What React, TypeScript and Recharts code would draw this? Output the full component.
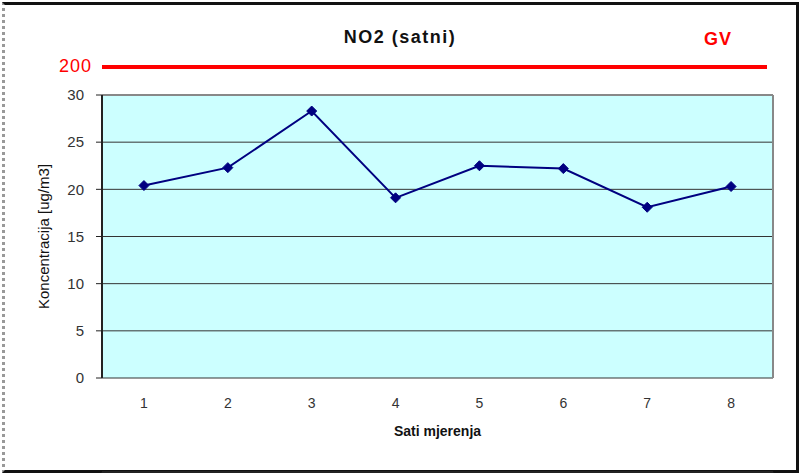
import { LineChart, Line, XAxis, YAxis, CartesianGrid, ReferenceLine } from "recharts";

const hours = [1, 2, 3, 4, 5, 6, 7, 8];
const no2 = [20.4, 22.3, 28.3, 19.1, 22.5, 22.2, 18.1, 20.3];
const yTicks = [0, 5, 10, 15, 20, 25, 30];
const edgeTicks = [0.5, 1.5, 2.5, 3.5, 4.5, 5.5, 6.5, 7.5, 8.5];
const limitValue = 200;
const limitLabel = "GV";

const data = hours.map((h, i) => ({ hour: h, value: no2[i] }));

const font = "'Liberation Sans', Arial, sans-serif";

// ромб-маркер как в Excel
const Diamond = (props: any) => {
    const { cx, cy } = props;
    if (cx == null || cy == null) return null;
    const r = 5;
    return (
        <polygon
            points={`${cx},${cy - r} ${cx + r},${cy} ${cx},${cy + r} ${cx - r},${cy}`}
            fill="#000080"
            stroke="#000080"
            strokeWidth={1}
        />
    );
};

export default function App() {
    return (
        <div style={{ position: "absolute", left: 0, top: 0, width: 799, height: 473, background: "#fff", fontFamily: font }}>
            {/* outer frame */}
            <div
                style={{
                    position: "absolute",
                    left: 2,
                    top: 2,
                    width: 791,
                    height: 465,
                    borderTop: "3px solid #111",
                    borderRight: "4px solid #111",
                    borderBottom: "3px solid #111",
                    borderLeft: "3px dotted #999",
                }}
            />
            <div style={{ position: "absolute", left: 250, top: 27, width: 300, textAlign: "center", fontSize: 18, fontWeight: "bold", color: "#111", letterSpacing: 1.5 }}>
                NO2 (satni)
            </div>
            <div style={{ position: "absolute", left: 688, top: 29, width: 60, textAlign: "center", fontSize: 18, fontWeight: "bold", color: "#ff0000", letterSpacing: 1 }}>
                {limitLabel}
            </div>
            <div style={{ position: "absolute", left: 40, top: 56, width: 52, textAlign: "right", fontSize: 18, color: "#ff0000", letterSpacing: 1 }}>
                {limitValue}
            </div>
            <div style={{ position: "absolute", left: 102, top: 65, width: 665, height: 4, background: "#ff0000" }} />

            <LineChart
                width={799}
                height={473}
                data={data}
                margin={{ top: 95, right: 26, left: 0, bottom: 0 }}
                style={{ position: "absolute", left: 0, top: 0 }}
            >
                <CartesianGrid fill="#ccffff" vertical={false} stroke="#333" strokeWidth={1} />
                <XAxis
                    xAxisId="edges"
                    dataKey="hour"
                    type="number"
                    domain={[0.5, 8.5]}
                    ticks={edgeTicks}
                    tickFormatter={() => ""}
                    tickSize={5}
                    height={1}
                    axisLine={{ stroke: "#222", strokeWidth: 2 }}
                    tickLine={{ stroke: "#222" }}
                />
                <XAxis
                    dataKey="hour"
                    type="number"
                    domain={[0.5, 8.5]}
                    ticks={hours}
                    height={94}
                    axisLine={false}
                    tickLine={false}
                    tickMargin={14}
                    tick={{ fill: "#333", fontSize: 14, fontFamily: font }}
                    label={{ value: "Sati mjerenja", position: "insideTop", offset: 48, fill: "#111", fontSize: 14, fontWeight: "bold", fontFamily: font }}
                />
                <YAxis
                    domain={[0, 30]}
                    ticks={yTicks}
                    width={102}
                    tickSize={6}
                    tickMargin={12}
                    axisLine={{ stroke: "#222", strokeWidth: 2 }}
                    tickLine={{ stroke: "#222" }}
                    tick={{ fill: "#333", fontSize: 15, fontFamily: font }}
                    label={{ value: "Koncentracija [ug/m3]", angle: -90, position: "insideLeft", offset: 44, fill: "#111", fontSize: 15, fontFamily: font, style: { textAnchor: "middle" } }}
                />
                <ReferenceLine y={30} xAxisId={0} stroke="#888" strokeWidth={2} />
                <ReferenceLine x={8.5} xAxisId={0} stroke="#888" strokeWidth={2} />
                <Line
                    dataKey="value"
                    stroke="#000080"
                    strokeWidth={2}
                    dot={<Diamond />}
                    activeDot={false}
                    isAnimationActive={false}
                />
            </LineChart>
        </div>
    );
}
